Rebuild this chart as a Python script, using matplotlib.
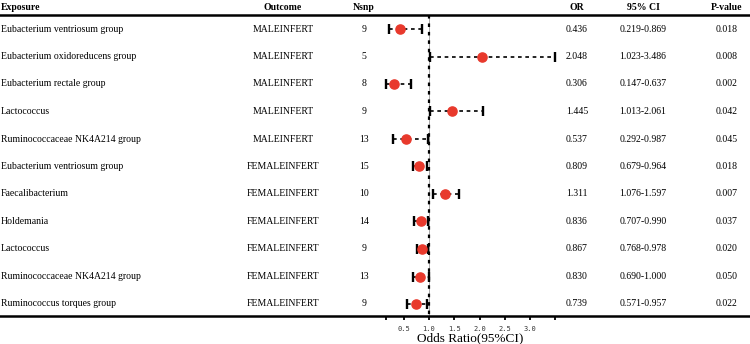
import matplotlib
matplotlib.use("Agg")
import matplotlib.pyplot as plt
import matplotlib.transforms as mtransforms

exposures = [
    "Eubacterium ventriosum group",
    "Eubacterium oxidoreducens group",
    "Eubacterium rectale group",
    "Lactococcus",
    "Ruminococcaceae NK4A214 group",
    "Eubacterium ventriosum group",
    "Faecalibacterium",
    "Holdemania",
    "Lactococcus",
    "Ruminococcaceae NK4A214 group",
    "Ruminococcus torques group",
]
outcomes = ["MALEINFERT"] * 5 + ["FEMALEINFERT"] * 6
nsnp = [9, 5, 8, 9, 13, 15, 10, 14, 9, 13, 9]
odds = [0.436, 2.048, 0.306, 1.445, 0.537, 0.809, 1.311, 0.836, 0.867, 0.830, 0.739]
ci_low = [0.219, 1.023, 0.147, 1.013, 0.292, 0.679, 1.076, 0.707, 0.768, 0.690, 0.571]
ci_high = [0.869, 3.486, 0.637, 2.061, 0.987, 0.964, 1.597, 0.990, 0.978, 1.000, 0.957]
ci_text = ["0.219-0.869", "1.023-3.486", "0.147-0.637", "1.013-2.061", "0.292-0.987",
           "0.679-0.964", "1.076-1.597", "0.707-0.990", "0.768-0.978", "0.690-1.000",
           "0.571-0.957"]
pvals = ["0.018", "0.008", "0.002", "0.042", "0.045", "0.018", "0.007", "0.037",
         "0.020", "0.050", "0.022"]
tick_vals = [0.5, 1.0, 1.5, 2.0, 2.5, 3.0]

serif = "Liberation Serif"
red = "#e8392c"

fig = plt.figure(figsize=(7.5, 3.44), dpi=100)
ax = fig.add_axes([0, 0, 1, 1])

# x scale: OR = 1 sits at 429 px, about 50.7 px per unit
px_per_unit = 50.7
ax.set_xlim(1 - 429 / px_per_unit, 1 + (750 - 429) / px_per_unit)
# y: one unit per row, first row at 29 px, 27.5 px apart
row_px = 27.5
ax.set_ylim((344 - 29) / row_px, -29 / row_px)

header_y = (8 - 29) / row_px
header_line = (15 - 29) / row_px
axis_y = (316 - 29) / row_px

rows = list(range(len(exposures)))

# reference line at OR = 1
ax.vlines(1, header_line, axis_y, color="#9a9a9a", lw=0.6, zorder=1)
ax.vlines(1, header_line, axis_y, color="black", lw=1.6,
          linestyles=[(0, (1.6, 2.2))], zorder=2)

# confidence intervals
ax.hlines(rows, ci_low, ci_high, color="black", lw=1.2,
          linestyles=[(0, (2.2, 2.2))], zorder=3)
ax.plot(ci_low, rows, ls="none", marker="|", ms=6.5, mew=1.7, color="black", zorder=3)
ax.plot(ci_high, rows, ls="none", marker="|", ms=6.5, mew=1.7, color="black", zorder=3)
ax.plot(odds, rows, ls="none", marker="o", ms=6.6, color=red, mec=red, zorder=4)

# header rule
ax.axhline(header_line, color="black", lw=1.8)

# bottom axis
for s in ["top", "right", "left"]:
    ax.spines[s].set_visible(False)
ax.spines["bottom"].set_position(("data", axis_y))
ax.spines["bottom"].set_linewidth(1.8)
ax.set_yticks([])
lo_end, hi_end = min(ci_low), max(ci_high)
ax.set_xticks([lo_end] + tick_vals + [hi_end])
ax.set_xticklabels([""] + [f"{v:.1f}" for v in tick_vals] + [""],
                   family="DejaVu Sans Mono", fontsize=5, color="#333333")
ax.tick_params(axis="x", direction="out", length=3, width=1.3, pad=4)
ax.text((lo_end + hi_end) / 2, (338 - 29) / row_px, "Odds Ratio(95%CI)",
        family=serif, fontsize=9.5, ha="center", va="center")

# table columns
tr = mtransforms.blended_transform_factory(ax.transAxes, ax.transData)
cols = [
    ("Exposure", 1 / 750, "left", exposures),
    ("Outcome", 283 / 750, "center", outcomes),
    ("Nsnp", 364 / 750, "center", [str(n) for n in nsnp]),
    ("OR", 577 / 750, "center", [f"{v:.3f}" for v in odds]),
    ("95% CI", 643 / 750, "center", ci_text),
    ("P-value", 727 / 750, "center", pvals),
]
for title, xpos, ha, values in cols:
    ax.text(xpos, header_y, title, transform=tr, family=serif, fontsize=7,
            fontweight="bold", ha=ha, va="center")
    for r, v in zip(rows, values):
        ax.text(xpos, r, v, transform=tr, family=serif, fontsize=7, ha=ha, va="center")

fig.savefig("out.png", dpi=100)
